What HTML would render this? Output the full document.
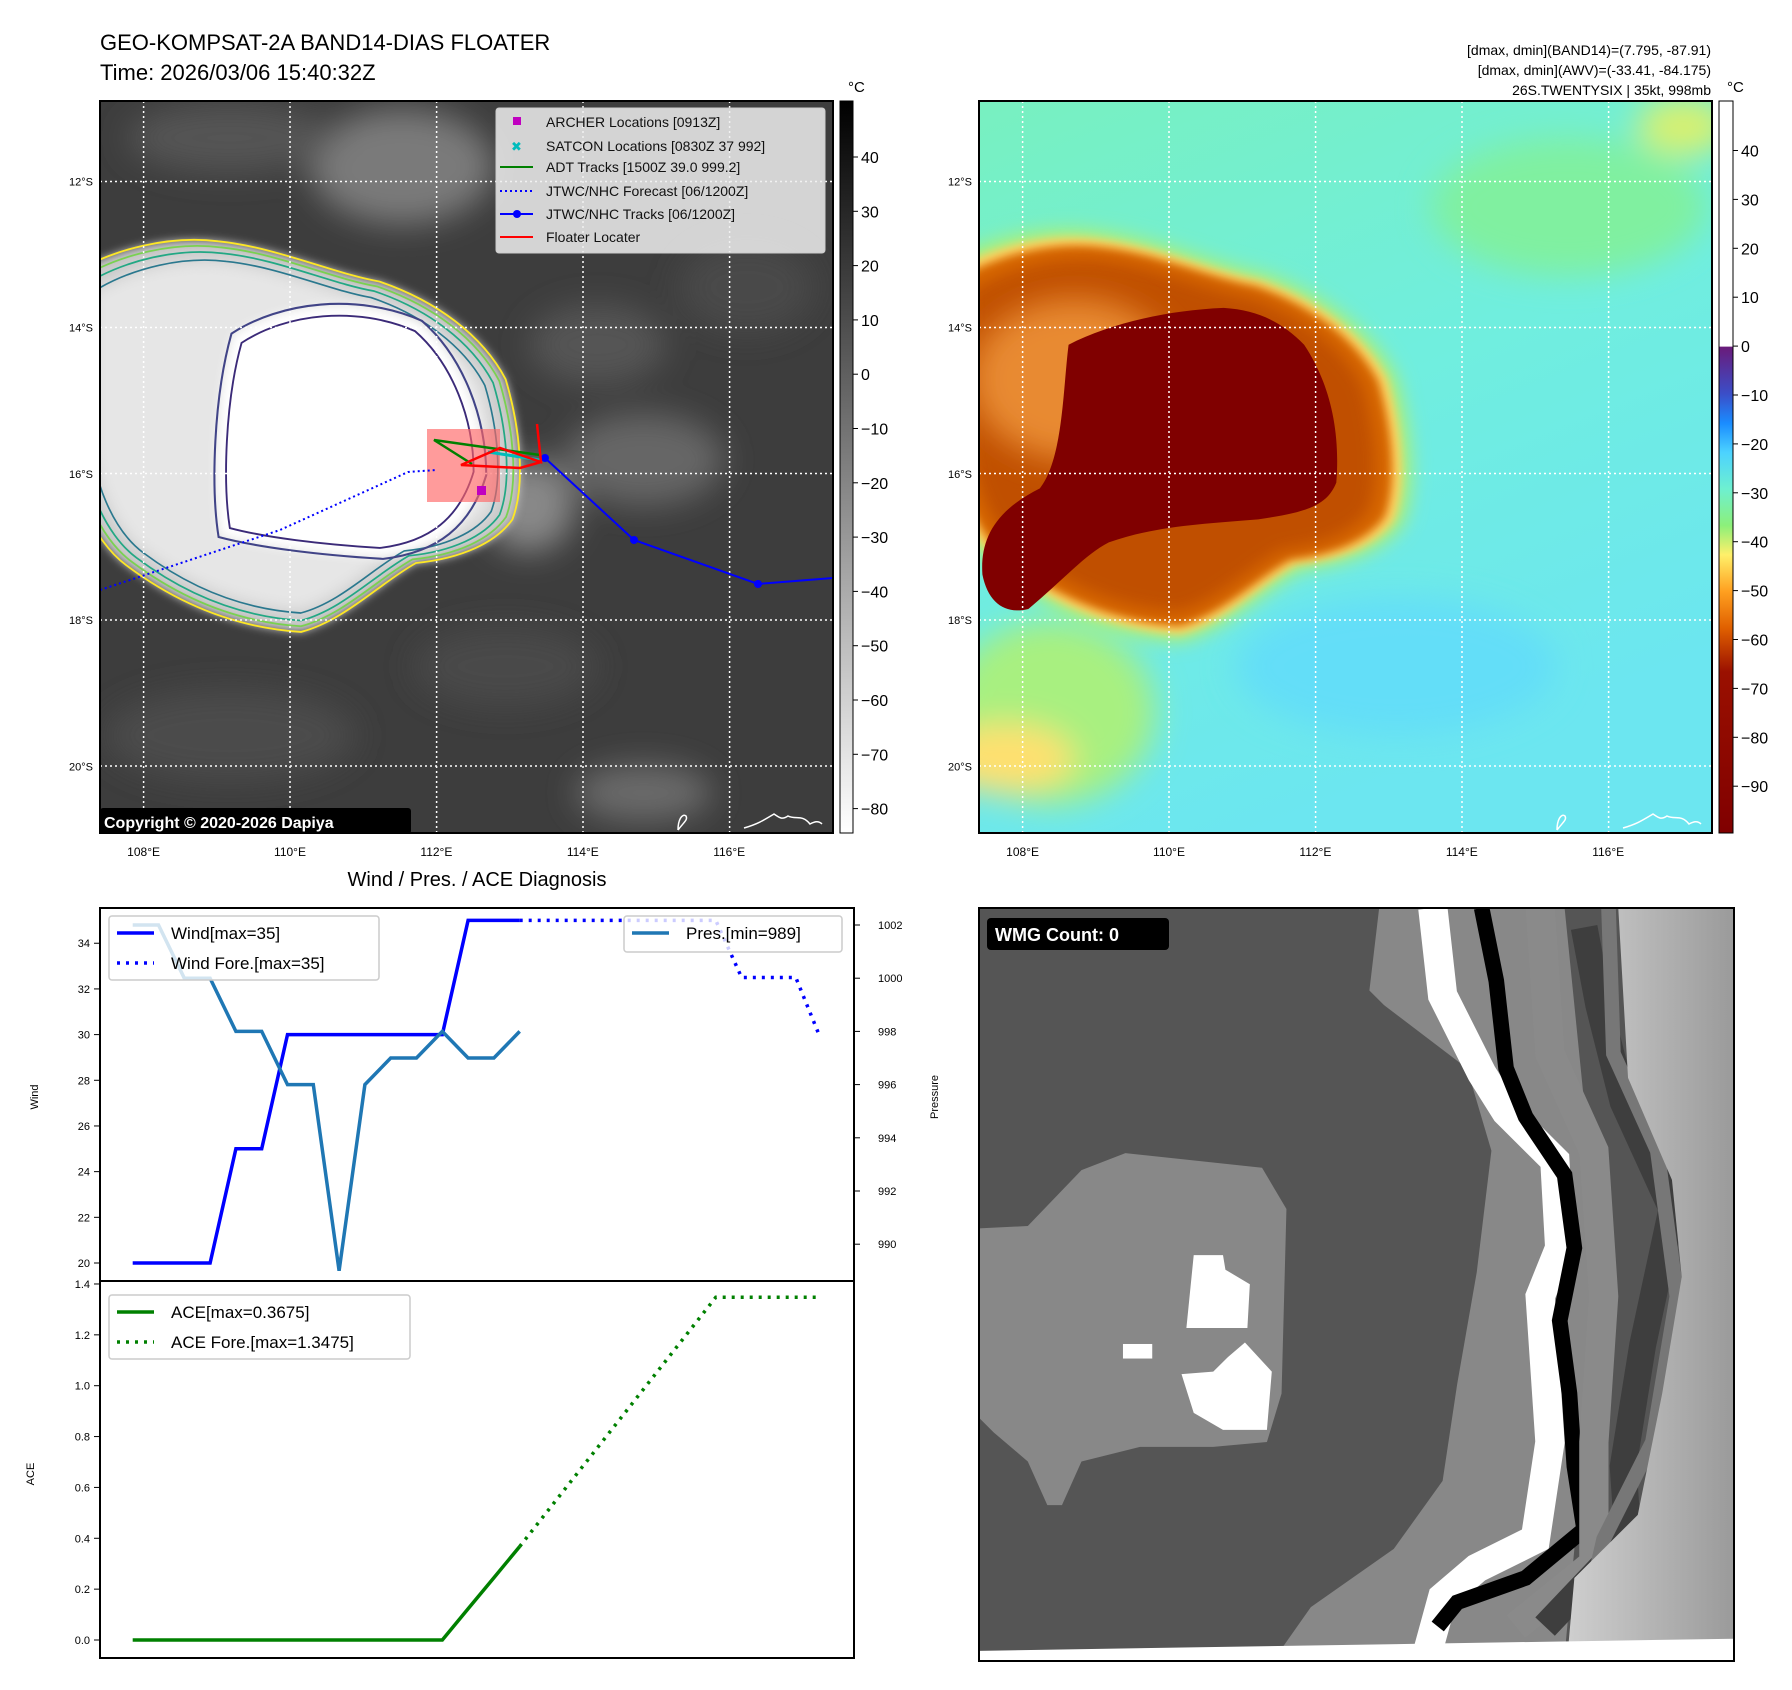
<!DOCTYPE html>
<html><head><meta charset="utf-8"><style>
html,body{margin:0;padding:0;background:#fff;}
svg{display:block;font-family:"Liberation Sans","DejaVu Sans",sans-serif;}
</style></head><body>
<svg id="root" width="1792" height="1690" viewBox="0 0 1792 1690" xmlns="http://www.w3.org/2000/svg">
<defs>
<filter id="blur8" x="-20%" y="-20%" width="140%" height="140%"><feGaussianBlur stdDeviation="8"/></filter>
<filter id="blur4" x="-20%" y="-20%" width="140%" height="140%"><feGaussianBlur stdDeviation="4"/></filter>
<filter id="blur14" x="-30%" y="-30%" width="160%" height="160%"><feGaussianBlur stdDeviation="14"/></filter>
<clipPath id="clip1"><rect x="100" y="101" width="733" height="732"/></clipPath>
<clipPath id="clip2"><rect x="979" y="101" width="733" height="732"/></clipPath>
<clipPath id="clip3"><rect x="979" y="908" width="755" height="753"/></clipPath>
<linearGradient id="cb1" x1="0" y1="0" x2="0" y2="1"><stop offset="0" stop-color="#000"/><stop offset="1" stop-color="#fff"/></linearGradient>
<linearGradient id="cb2" x1="0" y1="0" x2="0" y2="1">
<stop offset="0" stop-color="#fff"/><stop offset="0.335" stop-color="#fff"/>
<stop offset="0.336" stop-color="#6a1b7a"/><stop offset="0.40" stop-color="#3b4ec8"/>
<stop offset="0.44" stop-color="#1a8cff"/><stop offset="0.48" stop-color="#4cd2ff"/>
<stop offset="0.53" stop-color="#6ef0d0"/><stop offset="0.58" stop-color="#8cf07a"/>
<stop offset="0.62" stop-color="#fff06a"/><stop offset="0.67" stop-color="#ffa020"/>
<stop offset="0.72" stop-color="#e06000"/><stop offset="0.78" stop-color="#9a1000"/>
<stop offset="1" stop-color="#800000"/></linearGradient>
<linearGradient id="bg2" x1="0" y1="0" x2="0.4" y2="1"><stop offset="0" stop-color="#78f0c0"/><stop offset="0.5" stop-color="#70eede"/><stop offset="1" stop-color="#6ce6f0"/></linearGradient>
<linearGradient id="rg3" x1="0" y1="0" x2="1" y2="0"><stop offset="0" stop-color="#cfcfcf"/><stop offset="1" stop-color="#9a9a9a"/></linearGradient>
<path id="blobOuter" d="M60,240 C100,215 150,205 190,210 C240,215 290,238 330,245 C380,262 420,292 440,330 C452,370 458,420 446,452 C432,472 402,486 362,490 C330,508 300,540 262,550 C200,546 150,522 110,492 C80,470 60,420 60,380 Z"/>
<path id="blobCore" d="M212,300 C250,275 310,268 360,290 C392,318 410,365 410,410 C398,450 372,470 330,475 C280,472 232,466 202,458 C196,420 198,350 212,300 Z"/>
<path id="redCore" d="M165,300 C200,282 250,270 300,268 C330,270 350,280 370,300 C390,330 402,370 398,420 C390,440 372,446 330,452 C280,456 240,458 200,472 C180,482 160,505 130,530 C110,535 95,525 90,500 C88,470 100,445 140,425 C160,400 160,340 165,300 Z"/>
</defs>

<!-- Titles -->
<text x="100" y="50" font-size="22">GEO-KOMPSAT-2A BAND14-DIAS FLOATER</text>
<text x="100" y="80" font-size="22">Time: 2026/03/06 15:40:32Z</text>
<g font-size="14" text-anchor="end">
<text x="1711" y="55">[dmax, dmin](BAND14)=(7.795, -87.91)</text>
<text x="1711" y="75">[dmax, dmin](AWV)=(-33.41, -84.175)</text>
<text x="1711" y="95">26S.TWENTYSIX | 35kt, 998mb</text>
</g>

<!-- MAP 1 -->
<g clip-path="url(#clip1)">
<rect x="100" y="101" width="733" height="732" fill="#3d3d3d"/>
<g filter="url(#blur14)" transform="scale(1.149)">
<ellipse cx="350" cy="145" rx="80" ry="50" fill="#7a7a7a"/>
<ellipse cx="200" cy="120" rx="90" ry="30" fill="#555"/>
<ellipse cx="560" cy="400" rx="70" ry="40" fill="#666"/>
<ellipse cx="520" cy="300" rx="60" ry="35" fill="#555"/>
<ellipse cx="650" cy="250" rx="60" ry="40" fill="#4a4a4a"/>
<ellipse cx="560" cy="690" rx="60" ry="25" fill="#6a6a6a"/>
<ellipse cx="200" cy="640" rx="110" ry="40" fill="#4c4c4c"/>
<ellipse cx="440" cy="580" rx="80" ry="35" fill="#484848"/>
<ellipse cx="460" cy="440" rx="40" ry="40" fill="#888"/>
</g>
<g transform="scale(1.149)">
<use href="#blobOuter" fill="#c8c8c8" filter="url(#blur4)"/>
<use href="#blobOuter" fill="#e6e6e6" transform="translate(250,380) scale(0.9) translate(-250,-380)" filter="url(#blur8)"/>
<use href="#blobCore" fill="#fff" transform="translate(300,380) scale(1.1) translate(-300,-380)" filter="url(#blur4)"/>
<g fill="none" stroke-width="1.6">
<use href="#blobOuter" stroke="#fde725"/>
<use href="#blobOuter" stroke="#7ad151" transform="translate(260,385) scale(0.97) translate(-260,-385)"/>
<use href="#blobOuter" stroke="#22a884" transform="translate(260,385) scale(0.94) translate(-260,-385)"/>
<use href="#blobOuter" stroke="#2a788e" transform="translate(260,385) scale(0.9) translate(-260,-385)"/>
<use href="#blobCore" stroke="#414487" transform="translate(300,380) scale(1.12) translate(-300,-380)"/>
<use href="#blobCore" stroke="#3b2a78" transform="translate(300,380) scale(1.02) translate(-300,-380)"/>
</g>
</g>
<g stroke="#fff" stroke-width="1.5" stroke-dasharray="2,3">
<line x1="143.6" y1="101" x2="143.6" y2="833"/><line x1="290" y1="101" x2="290" y2="833"/><line x1="436.6" y1="101" x2="436.6" y2="833"/><line x1="583" y1="101" x2="583" y2="833"/><line x1="729.6" y1="101" x2="729.6" y2="833"/>
<line x1="100" y1="181.5" x2="833" y2="181.5"/><line x1="100" y1="327.5" x2="833" y2="327.5"/><line x1="100" y1="473.5" x2="833" y2="473.5"/><line x1="100" y1="620" x2="833" y2="620"/><line x1="100" y1="766" x2="833" y2="766"/>
</g>
<rect x="427" y="429" width="73" height="73" fill="#ff6666" fill-opacity="0.65"/>
<polyline points="100,590 280,530 408,472 436,470" fill="none" stroke="#00f" stroke-width="2" stroke-dasharray="2,3"/>
<polyline points="545,458 634,540 758,584 833,578" fill="none" stroke="#00f" stroke-width="2"/>
<g fill="#00f"><circle cx="545" cy="458" r="4"/><circle cx="634" cy="540" r="4"/><circle cx="758" cy="584" r="4"/></g>
<polyline points="488,452 540,460" stroke="#00bcbc" stroke-width="3" fill="none"/>
<polyline points="472,464 434,440 540,455" fill="none" stroke="#008000" stroke-width="2.5"/>
<polyline points="537,424 541,462 500,448 461,465 520,468 541,462" fill="none" stroke="#f00" stroke-width="2.5"/>
<rect x="477" y="486" width="9" height="9" fill="#c000c0"/>
<path d="M678,830 c6,-8 10,-10 8,-14 c-4,-3 -8,4 -8,14 M744,828 c14,-4 20,-8 30,-14 c6,4 8,6 14,2 c8,4 14,-2 22,8 c4,-2 8,-4 12,0" fill="none" stroke="#fff" stroke-width="1.5"/>
<g>
<rect x="496" y="108" width="329" height="145" rx="3" fill="#eee" fill-opacity="0.85" stroke="#ccc"/>
<g font-size="14" fill="#111">
<rect x="513" y="117" width="8" height="8" fill="#c000c0"/><text x="546" y="127">ARCHER Locations [0913Z]</text>
<text x="511" y="151" fill="#00bcbc" font-size="13" font-weight="bold">✖</text><text x="546" y="151">SATCON Locations [0830Z 37 992]</text>
<line x1="500" y1="167" x2="533" y2="167" stroke="#008000" stroke-width="2"/><text x="546" y="172">ADT Tracks [1500Z 39.0 999.2]</text>
<line x1="500" y1="191" x2="533" y2="191" stroke="#00f" stroke-width="2" stroke-dasharray="2,3"/><text x="546" y="196">JTWC/NHC Forecast [06/1200Z]</text>
<line x1="500" y1="214" x2="533" y2="214" stroke="#00f" stroke-width="2"/><circle cx="517" cy="214" r="4" fill="#00f"/><text x="546" y="219">JTWC/NHC Tracks [06/1200Z]</text>
<line x1="500" y1="237" x2="533" y2="237" stroke="#f00" stroke-width="2"/><text x="546" y="242">Floater Locater</text>
</g></g>
<rect x="100" y="808" width="311" height="26" rx="3" fill="#000"/>
<text x="104" y="828" font-size="16" font-weight="bold" fill="#fff">Copyright © 2020-2026 Dapiya</text>
</g>
<rect x="100" y="101" width="733" height="732" fill="none" stroke="#000" stroke-width="2"/>

<!-- MAP 2 -->
<g clip-path="url(#clip2)">
<rect x="979" y="101" width="733" height="732" fill="url(#bg2)"/>
<g filter="url(#blur14)" transform="translate(879,0) scale(1.149)">
<ellipse cx="150" cy="620" rx="90" ry="80" fill="#a8f080"/>
<ellipse cx="700" cy="110" rx="40" ry="25" fill="#d8f070"/>
<ellipse cx="110" cy="660" rx="60" ry="30" fill="#ffe070"/>
<ellipse cx="600" cy="180" rx="120" ry="60" fill="#80f0a0"/>
<ellipse cx="450" cy="580" rx="140" ry="60" fill="#64def8"/>
</g>
<g transform="translate(879,0) scale(1.149)">
<use href="#blobOuter" fill="#b0f070" filter="url(#blur8)" transform="translate(250,380) scale(1.05) translate(-250,-380)"/>
<use href="#blobOuter" fill="#ffd060" filter="url(#blur4)" transform="translate(250,380) scale(1.01) translate(-250,-380)"/>
<use href="#blobOuter" fill="#d86800" filter="url(#blur4)" transform="translate(250,380) scale(0.97) translate(-250,-380)"/>
<use href="#blobOuter" fill="#c05000" filter="url(#blur8)" transform="translate(250,380) scale(0.9) translate(-250,-380)"/>
<ellipse cx="170" cy="330" rx="90" ry="70" fill="#e88a30" filter="url(#blur14)"/>
<use href="#redCore" fill="#800000"/>
</g>
<g stroke="#fff" stroke-width="1.5" stroke-dasharray="2,3">
<line x1="1022.6" y1="101" x2="1022.6" y2="833"/><line x1="1169" y1="101" x2="1169" y2="833"/><line x1="1315.6" y1="101" x2="1315.6" y2="833"/><line x1="1462" y1="101" x2="1462" y2="833"/><line x1="1608.6" y1="101" x2="1608.6" y2="833"/>
<line x1="979" y1="181.5" x2="1712" y2="181.5"/><line x1="979" y1="327.5" x2="1712" y2="327.5"/><line x1="979" y1="473.5" x2="1712" y2="473.5"/><line x1="979" y1="620" x2="1712" y2="620"/><line x1="979" y1="766" x2="1712" y2="766"/>
</g>
<path d="M1557,830 c6,-8 10,-10 8,-14 c-4,-3 -8,4 -8,14 M1623,828 c14,-4 20,-8 30,-14 c6,4 8,6 14,2 c8,4 14,-2 22,8 c4,-2 8,-4 12,0" fill="none" stroke="#fff" stroke-width="1.5"/>
</g>
<rect x="979" y="101" width="733" height="732" fill="none" stroke="#000" stroke-width="2"/>

<rect x="840" y="101" width="13" height="732" fill="url(#cb1)" stroke="#000"/>
<rect x="1719" y="101" width="14" height="732" fill="url(#cb2)" stroke="#000"/>
<text x="848" y="92" font-size="15">°C</text>
<text x="1727" y="92" font-size="15">°C</text>
<g id="cbTicks" font-size="16"></g>

<g id="mapLabels" font-size="11"></g>

<text x="477" y="886" font-size="20" text-anchor="middle">Wind / Pres. / ACE Diagnosis</text>
<g id="chart"></g>
<rect x="100" y="908" width="754" height="750" fill="none" stroke="#000" stroke-width="2"/>
<line x1="100" y1="1281" x2="854" y2="1281" stroke="#000" stroke-width="2"/>
<text transform="translate(38,1097) rotate(-90)" font-size="11" text-anchor="middle">Wind</text>
<text transform="translate(938,1097) rotate(-90)" font-size="11" text-anchor="middle">Pressure</text>
<text transform="translate(34,1474) rotate(-90)" font-size="11" text-anchor="middle">ACE</text>

<g clip-path="url(#clip3)">
<g transform="translate(979,908) scale(0.488,0.4855)">
<rect x="0" y="0" width="1549" height="1553" fill="#555"/>
<polygon points="820,0 1200,0 1260,600 1240,1100 1200,1540 610,1540 680,1440 850,1320 950,1180 980,980 1020,750 1050,500 1000,330 830,200 800,170" fill="#888"/>
<polygon points="0,660 100,655 210,540 300,505 580,535 630,620 620,1000 590,1100 480,1110 330,1110 210,1140 170,1230 140,1230 100,1140 30,1080 0,1050" fill="#888"/>
<polygon points="440,715 500,715 505,745 555,775 550,865 490,865 425,865" fill="#fff"/>
<polygon points="415,960 480,955 510,925 545,895 600,955 590,1075 500,1075 440,1040" fill="#fff"/>
<rect x="295" y="898" width="60" height="30" fill="#fff"/>
<polyline points="930,0 950,180 1030,340 1080,420 1180,520 1190,700 1150,800 1170,1100 1140,1300 1020,1360 950,1420 920,1530" fill="none" stroke="#fff" stroke-width="60"/>
<polyline points="1030,0 1060,150 1080,330 1120,430 1200,550 1220,700 1190,850 1210,1000 1220,1150 1240,1280 1120,1380 980,1430 940,1480" fill="none" stroke="#000" stroke-width="32"/>
<polyline points="1150,0 1170,300 1260,500 1280,800 1260,1100 1260,1350 1100,1480" fill="none" stroke="#8a8a8a" stroke-width="60"/>
<polyline points="1240,40 1270,200 1320,400 1420,620 1360,900 1320,1150 1330,1300 1160,1480" fill="none" stroke="#3e3e3e" stroke-width="55"/>
<polyline points="1290,0 1300,300 1390,500 1430,800 1380,1100 1280,1300 1230,1520" fill="none" stroke="#777" stroke-width="30"/>
<polygon points="1310,0 1549,0 1549,1550 1205,1550 1220,1380 1350,1250 1400,1000 1440,760 1420,560 1330,350" fill="url(#rg3)"/>
<polygon points="0,1530 1549,1505 1549,1553 0,1553" fill="#fff"/>
</g>
<rect x="987" y="918" width="182" height="32" rx="4" fill="#000"/>
<text x="995" y="941" font-size="18" font-weight="bold" fill="#fff">WMG Count: 0</text>
</g>
<rect x="979" y="908" width="755" height="753" fill="none" stroke="#000" stroke-width="2"/>
</svg>

<script>
const obsIndex = [0,1,2,3,4,5,6,7,8,9,10,11,12,13,14,15];
const windObs = [20,20,20,20,25,25,30,30,30,30,30,30,30,35,35,35];
const presObs = [1002,1002,1000,1000,998,998,996,996,989,996,997,997,998,997,997,998];
const aceObs = [0,0,0,0,0,0,0,0,0,0,0,0,0,0.1225,0.245,0.3675];
const foreIndex = [15,22.6,23.6,25.7,26.6];
const windFore = [35,35,32.5,32.5,30];
const aceForeIndex = [15,22.6,26.6];
const aceFore = [0.3675,1.3475,1.3475];
const windTicks = [20,22,24,26,28,30,32,34];
const presTicks = [990,992,994,996,998,1000,1002];
const aceTicks = ["0.0","0.2","0.4","0.6","0.8","1.0","1.2","1.4"];
const irTicks = [40,30,20,10,0,-10,-20,-30,-40,-50,-60,-70,-80];
const awvTicks = [40,30,20,10,0,-10,-20,-30,-40,-50,-60,-70,-80,-90];
const latTicks = ["12°S","14°S","16°S","18°S","20°S"];
const lonTicks = ["108°E","110°E","112°E","114°E","116°E"];

const NS = "http://www.w3.org/2000/svg";
const xIdx = i => 132.7 + 25.8 * i;
const yWind = v => 1263 - (v - 20) * 22.84;
const yPres = v => 925 + (1002 - v) * 26.6;
const yAce = v => 1640 - v * 254.3;

function mk(tag, attrs, parent) {
  const e = document.createElementNS(NS, tag);
  for (const k in attrs) e.setAttribute(k, attrs[k]);
  parent.appendChild(e);
  return e;
}
const chart = document.getElementById("chart");
function line(xs, ys, fx, fy, color, dash, name) {
  const pts = xs.map((x, i) => fx(x).toFixed(1) + "," + fy(ys[i]).toFixed(1)).join(" ");
  const p = mk("polyline", {points: pts, fill: "none", stroke: color, "stroke-width": 3.5}, chart);
  if (dash) p.setAttribute("stroke-dasharray", "3,6");
  
  
  return p;
}
line(obsIndex, windObs, xIdx, yWind, "#0000ff", false, "wind-line");
line(foreIndex, windFore, xIdx, yWind, "#0000ff", true, "wind-forecast-line");
line(obsIndex, presObs, xIdx, yPres, "#1f77b4", false, "pressure-line");
line(obsIndex, aceObs, xIdx, yAce, "#008000", false, "ace-line");
line(aceForeIndex, aceFore, xIdx, yAce, "#008000", true, "ace-forecast-line");

function tick(x1, x2, y, label, tx, anchor, name) {
  mk("line", {x1: x1, x2: x2, y1: y, y2: y, stroke: "#000", "stroke-width": 1}, chart);
  const t = mk("text", {x: tx, y: y + 4, "font-size": 11, "text-anchor": anchor}, chart);
  t.textContent = label;
  
  
}
windTicks.forEach(v => tick(94, 100, yWind(v), String(v), 90, "end", "wind-tick-label"));
presTicks.forEach(v => tick(854, 860, yPres(v), String(v), 878, "start", "pressure-tick-label"));
aceTicks.forEach(v => tick(94, 100, yAce(parseFloat(v)), v, 90, "end", "ace-tick-label"));

function legend(x, y, w, h, entries, name) {
  const g = mk("g", {}, chart);
  
  
  mk("rect", {x: x, y: y, width: w, height: h, rx: 3, fill: "#fff", "fill-opacity": 0.8, stroke: "#ccc", "stroke-width": 1.5}, g);
  entries.forEach((en, i) => {
    const cy = y + 17 + i * 30;
    const l = mk("line", {x1: x + 8, x2: x + 45, y1: cy, y2: cy, stroke: en.c, "stroke-width": 3.5}, g);
    if (en.d) l.setAttribute("stroke-dasharray", "3,6");
    const t = mk("text", {x: x + 62, y: cy + 6, "font-size": 17}, g);
    t.textContent = en.t;
  });
}
legend(109, 916, 270, 64, [{c: "#0000ff", t: "Wind[max=35]"}, {c: "#0000ff", d: 1, t: "Wind Fore.[max=35]"}], "wind-legend");
legend(624, 916, 218, 36, [{c: "#1f77b4", t: "Pres.[min=989]"}], "pressure-legend");
legend(109, 1295, 301, 64, [{c: "#008000", t: "ACE[max=0.3675]"}, {c: "#008000", d: 1, t: "ACE Fore.[max=1.3475]"}], "ace-legend");

const cbg = document.getElementById("cbTicks");
irTicks.forEach(v => {
  const y = 157 + (40 - v) * 5.43;
  mk("line", {x1: 853, x2: 858, y1: y, y2: y, stroke: "#000"}, cbg);
  const t = mk("text", {x: 861, y: y + 6}, cbg);
  t.textContent = v < 0 ? "\u2212" + (-v) : String(v);
  
  
});
awvTicks.forEach(v => {
  const y = 150.5 + (40 - v) * 4.89;
  mk("line", {x1: 1733, x2: 1738, y1: y, y2: y, stroke: "#000"}, cbg);
  const t = mk("text", {x: 1741, y: y + 6}, cbg);
  t.textContent = v < 0 ? "\u2212" + (-v) : String(v);
  
  
});
const ml = document.getElementById("mapLabels");
[0, 879].forEach(off => {
  latTicks.forEach((s, i) => {
    const t = mk("text", {x: 93 + off, y: 185.5 + i * 146.2, "text-anchor": "end", "font-size": 11}, ml);
    t.textContent = s;
    
    
  });
  lonTicks.forEach((s, i) => {
    const t = mk("text", {x: 143.6 + off + i * 146.4, y: 856, "text-anchor": "middle", "font-size": 12}, ml);
    t.textContent = s;
    
    
  });
});
</script>
</body></html>
